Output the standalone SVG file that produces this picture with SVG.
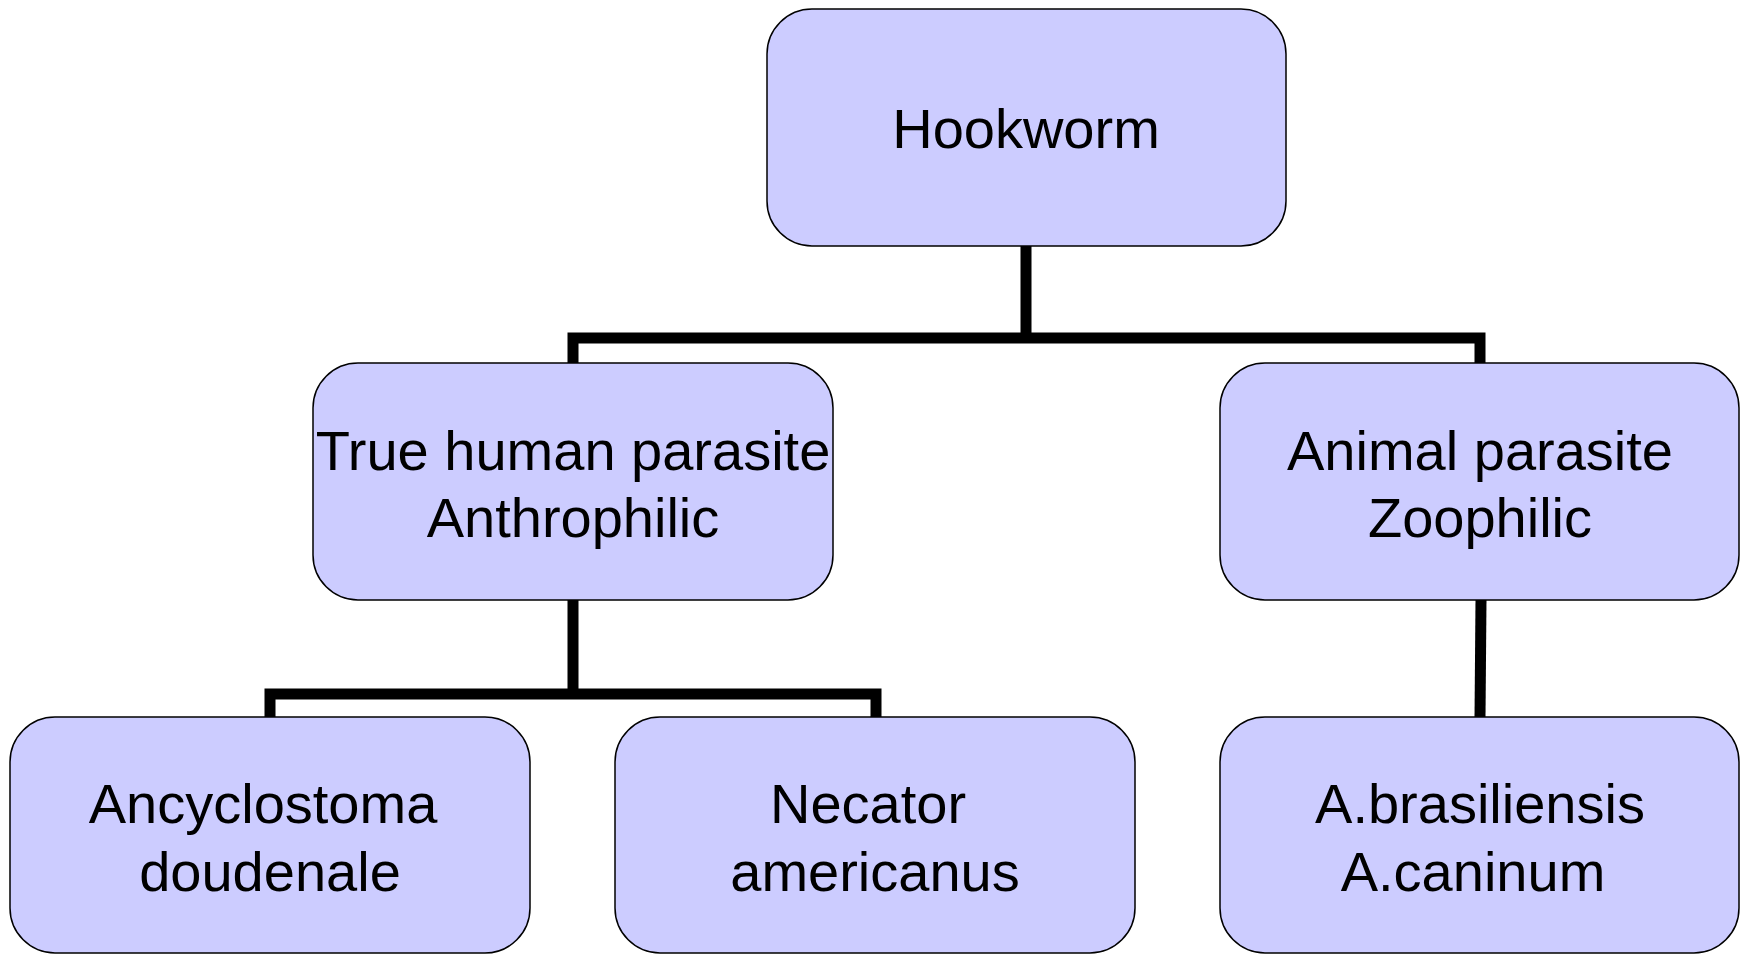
<svg xmlns="http://www.w3.org/2000/svg" width="1750" height="954" viewBox="0 0 1750 954">
<style>
.box{fill:#CCCCFF;stroke:#000;stroke-width:1.5}
.lbl{font-family:"Liberation Sans",Arial,sans-serif;font-size:56px;fill:#000;text-anchor:middle}
.conn{fill:none;stroke:#000;stroke-width:11;stroke-linejoin:miter;stroke-linecap:butt}
</style>
<rect width="1750" height="954" fill="#fff"/>
<g id="connectors">
<path class="conn" d="M1026 246 V338"/>
<path class="conn" d="M573 363 V338 H1480 V363"/>
<path class="conn" d="M573 600 V694"/>
<path class="conn" d="M270 717 V694 H876 V717"/>
<path class="conn" d="M1481 600 L1480 717"/>
</g>
<g id="hookworm">
<rect class="box" x="767" y="9" width="519" height="237" rx="45" ry="45"/>
<text class="lbl" x="1026" y="148">Hookworm</text>
</g>
<g id="true-human">
<rect class="box" x="313" y="363" width="520" height="237" rx="45" ry="45"/>
<text class="lbl" x="573" y="470">True human parasite</text>
<text class="lbl" x="573" y="537">Anthrophilic</text>
</g>
<g id="animal">
<rect class="box" x="1220" y="363" width="519" height="237" rx="45" ry="45"/>
<text class="lbl" x="1480" y="470">Animal parasite</text>
<text class="lbl" x="1480" y="537">Zoophilic</text>
</g>
<g id="ancyclostoma">
<rect class="box" x="10" y="717" width="520" height="236" rx="45" ry="45"/>
<text class="lbl" x="263" y="823">Ancyclostoma</text>
<text class="lbl" x="270" y="891">doudenale</text>
</g>
<g id="necator">
<rect class="box" x="615" y="717" width="520" height="236" rx="45" ry="45"/>
<text class="lbl" x="868" y="823">Necator</text>
<text class="lbl" x="875" y="891">americanus</text>
</g>
<g id="brasiliensis">
<rect class="box" x="1220" y="717" width="519" height="236" rx="45" ry="45"/>
<text class="lbl" x="1480" y="823">A.brasiliensis</text>
<text class="lbl" x="1473" y="891">A.caninum</text>
</g>
</svg>
